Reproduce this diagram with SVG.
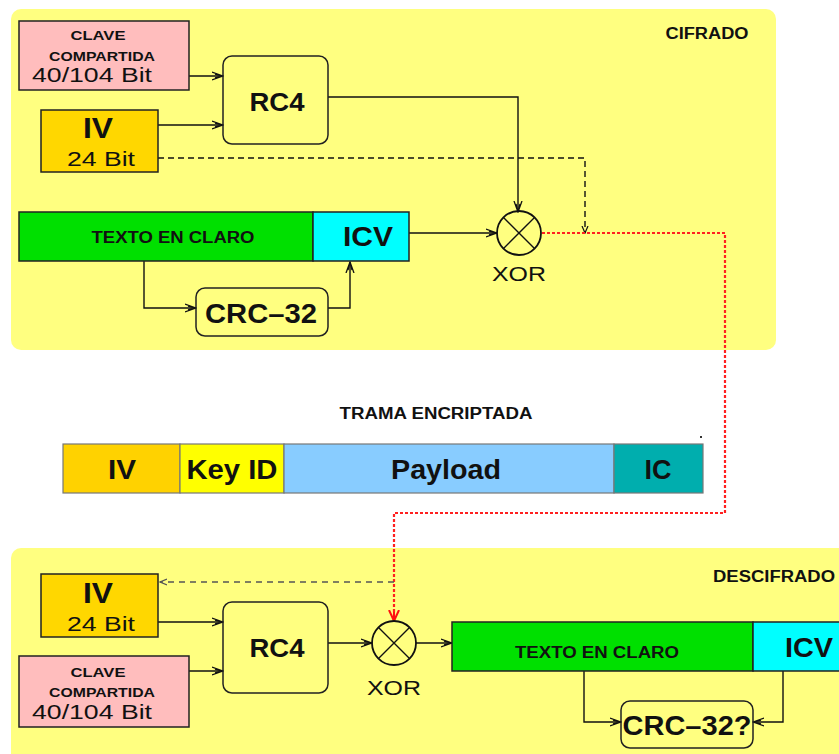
<svg xmlns="http://www.w3.org/2000/svg" width="839" height="754" viewBox="0 0 839 754">
<defs>
<style>
.panel{fill:#FFFF80;stroke:none}
.box{stroke:#222;stroke-width:1.5}
.rbox{fill:none;stroke:#222;stroke-width:1.5}
.fbox{stroke:#777;stroke-width:1.2}
.ln{fill:none;stroke:#111;stroke-width:1.4}
.dash{fill:none;stroke:#111;stroke-width:1.4;stroke-dasharray:6,4}
.gdash{fill:none;stroke:#555;stroke-width:1.4;stroke-dasharray:6,5}
.red{fill:none;stroke:#FF2020;stroke-width:2.2;stroke-dasharray:3,2}
.t{font-family:"Liberation Sans",Arial,sans-serif;fill:#111;text-anchor:middle}
.b{font-weight:bold}
</style>
<marker id="ar" viewBox="0 0 12 10" refX="11" refY="5" markerWidth="12" markerHeight="10" markerUnits="userSpaceOnUse" orient="auto">
<path d="M0,1 L11,5 L0,9 M3,3 L11,5 L3,7" fill="none" stroke="#111" stroke-width="1.3"/>
</marker>
<marker id="ars" viewBox="0 0 8 8" refX="7" refY="4" markerWidth="8" markerHeight="8" markerUnits="userSpaceOnUse" orient="auto">
<path d="M0,1 L7,4 L0,7" fill="none" stroke="#111" stroke-width="1.2"/>
</marker>
<marker id="arg" viewBox="0 0 8 8" refX="7" refY="4" markerWidth="8" markerHeight="8" markerUnits="userSpaceOnUse" orient="auto">
<path d="M0,1 L7,4 L0,7" fill="none" stroke="#555" stroke-width="1.3"/>
</marker>
<marker id="arr" viewBox="0 0 12 12" refX="11" refY="6" markerWidth="12" markerHeight="12" markerUnits="userSpaceOnUse" orient="auto">
<path d="M0,1 L11,6 L0,11 M2,6 L11,6" fill="none" stroke="#FF1010" stroke-width="2"/>
</marker>
</defs>

<g id="panel-cifrado">
<rect class="panel" x="11" y="9" width="765" height="341" rx="10"/>
<text class="t b" x="707" y="39" font-size="16" textLength="83" lengthAdjust="spacingAndGlyphs">CIFRADO</text>
</g>
<g id="panel-descifrado">
<rect class="panel" x="11" y="548" width="850" height="230" rx="10"/>
<text class="t b" x="774" y="582" font-size="16" textLength="122" lengthAdjust="spacingAndGlyphs">DESCIFRADO</text>
</g>

<g id="connectors">
<!-- top -->
<path class="ln" d="M189,76 H223" marker-end="url(#ar)"/>
<path class="ln" d="M158,125 H223" marker-end="url(#ar)"/>
<path class="ln" d="M328,97 H518 V212" marker-end="url(#ar)"/>
<path class="dash" d="M158,158 H585 V233" marker-end="url(#ars)"/>
<path class="ln" d="M409,233 H497" marker-end="url(#ar)"/>
<path class="ln" d="M144,261 V308 H196" marker-end="url(#ar)"/>
<path class="ln" d="M328,308 H350 V262" marker-end="url(#ar)"/>
<path class="red" d="M542,233 H725 V513 H394 V621" marker-end="url(#arr)"/>
<!-- bottom -->
<path class="gdash" d="M394,582 H160" marker-end="url(#arg)"/>
<path class="ln" d="M158,622 H223" marker-end="url(#ar)"/>
<path class="ln" d="M189,671 H223" marker-end="url(#ar)"/>
<path class="ln" d="M328,643 H372" marker-end="url(#ar)"/>
<path class="ln" d="M416,643 H452" marker-end="url(#ar)"/>
<path class="ln" d="M584,671 V722 H621" marker-end="url(#ar)"/>
<path class="ln" d="M783,671 V722 H753" marker-end="url(#ar)"/>
</g>

<g id="clave-top">
<rect class="box" x="19" y="21" width="170" height="69" fill="#FFBDBD"/>
<text class="t b" x="98" y="40" font-size="12" textLength="55" lengthAdjust="spacingAndGlyphs">CLAVE</text>
<text class="t b" x="102" y="61" font-size="12" textLength="106" lengthAdjust="spacingAndGlyphs">COMPARTIDA</text>
<text class="t" x="92" y="82" font-size="20" textLength="120" lengthAdjust="spacingAndGlyphs">40/104 Bit</text>
</g>
<g id="iv-top">
<rect class="box" x="41" y="110" width="117" height="62" fill="#FFD700"/>
<text class="t b" x="98" y="138" font-size="29" textLength="30" lengthAdjust="spacingAndGlyphs">IV</text>
<text class="t" x="101" y="166" font-size="20" textLength="68" lengthAdjust="spacingAndGlyphs">24 Bit</text>
</g>
<g id="rc4-top">
<rect class="rbox" x="223" y="56" width="105" height="88" rx="9"/>
<text class="t b" x="277" y="111" font-size="25" textLength="55" lengthAdjust="spacingAndGlyphs">RC4</text>
</g>
<g id="xor-top">
<circle cx="519" cy="233" r="22" fill="none" stroke="#111" stroke-width="1.8"/>
<path class="ln" d="M503.5,217.5 L534.5,248.5 M534.5,217.5 L503.5,248.5" stroke-width="1.8"/>
<text class="t" x="519" y="281" font-size="20" textLength="54" lengthAdjust="spacingAndGlyphs">XOR</text>
</g>
<g id="texto-top">
<rect class="box" x="19" y="212" width="294" height="49" fill="#00E000"/>
<text class="t b" x="173" y="243" font-size="16" textLength="163" lengthAdjust="spacingAndGlyphs">TEXTO EN CLARO</text>
</g>
<g id="icv-top">
<rect class="box" x="313" y="212" width="96" height="49" fill="#00FFFF"/>
<text class="t b" x="368" y="246" font-size="27" textLength="50" lengthAdjust="spacingAndGlyphs">ICV</text>
</g>
<g id="crc-top">
<rect class="rbox" x="196" y="288" width="132" height="48" rx="9"/>
<text class="t b" x="261" y="323" font-size="27" textLength="112" lengthAdjust="spacingAndGlyphs">CRC–32</text>
</g>

<g id="trama">
<text class="t b" x="436" y="419" font-size="16" textLength="193" lengthAdjust="spacingAndGlyphs">TRAMA ENCRIPTADA</text>
<rect class="fbox" x="63" y="444" width="117" height="49" fill="#FFD200"/>
<rect class="fbox" x="180" y="444" width="104" height="49" fill="#FFFF00"/>
<rect class="fbox" x="284" y="444" width="330" height="49" fill="#88CCFF"/>
<rect class="fbox" x="614" y="444" width="89" height="49" fill="#00AEAE"/>
<text class="t b" x="122" y="479" font-size="27" textLength="28" lengthAdjust="spacingAndGlyphs">IV</text>
<text class="t b" x="232" y="479" font-size="27" textLength="91" lengthAdjust="spacingAndGlyphs">Key ID</text>
<text class="t b" x="446" y="479" font-size="27" textLength="110" lengthAdjust="spacingAndGlyphs">Payload</text>
<text class="t b" x="658" y="479" font-size="27" textLength="27" lengthAdjust="spacingAndGlyphs">IC</text>
<rect x="700" y="436" width="2" height="2" fill="#333"/>
</g>

<g id="iv-bottom">
<rect class="box" x="41" y="574" width="117" height="63" fill="#FFD700"/>
<text class="t b" x="98" y="603" font-size="29" textLength="30" lengthAdjust="spacingAndGlyphs">IV</text>
<text class="t" x="101" y="631" font-size="20" textLength="68" lengthAdjust="spacingAndGlyphs">24 Bit</text>
</g>
<g id="clave-bottom">
<rect class="box" x="19" y="656" width="170" height="71" fill="#FFBDBD"/>
<text class="t b" x="98" y="677" font-size="12" textLength="55" lengthAdjust="spacingAndGlyphs">CLAVE</text>
<text class="t b" x="102" y="697" font-size="12" textLength="106" lengthAdjust="spacingAndGlyphs">COMPARTIDA</text>
<text class="t" x="92" y="719" font-size="20" textLength="120" lengthAdjust="spacingAndGlyphs">40/104 Bit</text>
</g>
<g id="rc4-bottom">
<rect class="rbox" x="223" y="602" width="105" height="91" rx="9"/>
<text class="t b" x="277" y="657" font-size="25" textLength="55" lengthAdjust="spacingAndGlyphs">RC4</text>
</g>
<g id="xor-bottom">
<circle cx="394" cy="643" r="22" fill="none" stroke="#111" stroke-width="1.8"/>
<path class="ln" d="M378.5,627.5 L409.5,658.5 M409.5,627.5 L378.5,658.5" stroke-width="1.8"/>
<text class="t" x="394" y="695" font-size="20" textLength="54" lengthAdjust="spacingAndGlyphs">XOR</text>
</g>
<g id="texto-bottom">
<rect class="box" x="452" y="622" width="301" height="49" fill="#00E000"/>
<text class="t b" x="597" y="658" font-size="16" textLength="164" lengthAdjust="spacingAndGlyphs">TEXTO EN CLARO</text>
</g>
<g id="icv-bottom">
<rect class="box" x="753" y="622" width="100" height="49" fill="#00FFFF"/>
<text class="t b" x="809" y="657" font-size="27" textLength="48" lengthAdjust="spacingAndGlyphs">ICV</text>
</g>
<g id="crc-bottom">
<rect class="rbox" x="621" y="701" width="132" height="47" rx="9"/>
<text class="t b" x="687" y="735" font-size="27" textLength="129" lengthAdjust="spacingAndGlyphs">CRC–32?</text>
</g>
</svg>
